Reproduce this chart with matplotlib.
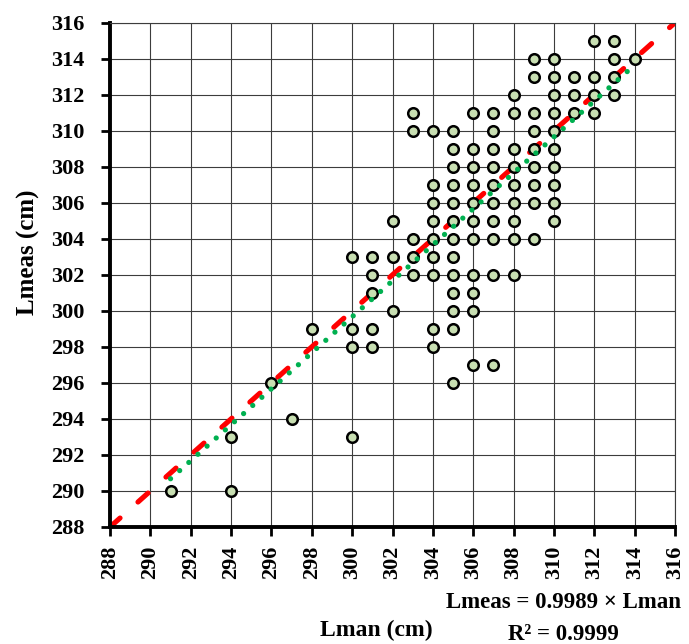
import matplotlib
matplotlib.use("Agg")
import matplotlib.pyplot as plt
import numpy as np

plt.rcParams["font.family"] = ["Liberation Serif", "DejaVu Serif"]
plt.rcParams["font.weight"] = "bold"
plt.rcParams["lines.scale_dashes"] = False

# Manual length (x) and measured length (y), in cm
lman = [312, 313,
        309, 310, 313, 314,
        309, 310, 311, 312, 313,
        308, 310, 311, 312, 313,
        303, 306, 307, 308, 309, 310, 311, 312,
        303, 304, 305, 307, 309, 310,
        305, 306, 307, 308, 309, 310,
        305, 306, 307, 308, 309, 310,
        304, 305, 306, 307, 308, 309, 310,
        304, 305, 306, 307, 308, 309, 310,
        302, 304, 305, 306, 307, 308, 310,
        303, 304, 305, 306, 307, 308, 309,
        300, 301, 302, 303, 304, 305,
        301, 303, 304, 305, 306, 307, 308,
        301, 305, 306,
        302, 305, 306,
        298, 300, 301, 304, 305,
        300, 301, 304,
        306, 307,
        296, 305,
        297,
        294, 300,
        291, 294]
lmeas = [315, 315,
         314, 314, 314, 314,
         313, 313, 313, 313, 313,
         312, 312, 312, 312, 312,
         311, 311, 311, 311, 311, 311, 311, 311,
         310, 310, 310, 310, 310, 310,
         309, 309, 309, 309, 309, 309,
         308, 308, 308, 308, 308, 308,
         307, 307, 307, 307, 307, 307, 307,
         306, 306, 306, 306, 306, 306, 306,
         305, 305, 305, 305, 305, 305, 305,
         304, 304, 304, 304, 304, 304, 304,
         303, 303, 303, 303, 303, 303,
         302, 302, 302, 302, 302, 302, 302,
         301, 301, 301,
         300, 300, 300,
         299, 299, 299, 299, 299,
         298, 298, 298,
         297, 297,
         296, 296,
         294,
         293, 293,
         290, 290]

slope = 0.9989
r_squared = 0.9999
axis_ticks = list(range(288, 317, 2))

fig = plt.figure(figsize=(6.89, 6.44), dpi=100)
ax = fig.add_axes([110 / 689, 1 - 527 / 644, 565 / 689, 504.3 / 644])

lo, hi = axis_ticks[0], axis_ticks[-1]

# 1:1 reference line
ax.plot([lo, hi], [lo, hi], color="#ff0000", lw=3.7,
        dashes=(9.7, 17.3), dash_capstyle="round", zorder=2)

ax.scatter(lman, lmeas, s=58, facecolor="#c8dfb2", edgecolor="black",
           linewidths=1.8, zorder=3)

# linear fit through the origin
xt = np.array([min(lman), max(lman)], dtype=float)
ax.plot(xt, slope * xt, color="#00b050", lw=3.8,
        linestyle=(0, (0.01, 8.8)), dash_capstyle="round", zorder=4)

ax.set_xlim(lo, hi)
ax.set_ylim(lo, hi)
ax.set_xticks(axis_ticks)
ax.set_yticks(axis_ticks)
ax.set_xticklabels([str(t) for t in axis_ticks], rotation=90, fontsize=16,
                   fontweight="bold")
ax.set_yticklabels([str(t) for t in axis_ticks], fontsize=16, fontweight="bold")
ax.grid(True, color="#3c3c3c", lw=0.8, zorder=0)
ax.set_axisbelow(True)

for side in ("left", "bottom"):
    ax.spines[side].set_linewidth(2.8)
    ax.spines[side].set_color("black")
for side in ("top", "right"):
    ax.spines[side].set_linewidth(0.8)
    ax.spines[side].set_color("#3c3c3c")

ax.tick_params(axis="y", length=6.5, width=2, pad=12, colors="black")
ax.tick_params(axis="x", length=6.5, width=2, pad=7, colors="black")

fig.text(28 / 689, 1 - 252 / 644, "Lmeas (cm)", rotation=90, ha="center",
         va="center", fontsize=18, fontweight="bold")
fig.text(376 / 689, 1 - 636 / 644, "Lman (cm)", ha="center",
         va="baseline", fontsize=17, fontweight="bold")
fig.text(564 / 689, 1 - 608 / 644, f"Lmeas = {slope} \u00d7 Lman", ha="center",
         va="baseline", fontsize=16.5, fontweight="bold")
fig.text(563 / 689, 1 - 640 / 644, f"R\u00b2 = {r_squared}", ha="center",
         va="baseline", fontsize=16.5, fontweight="bold")

fig.savefig("out.png", dpi=100)
